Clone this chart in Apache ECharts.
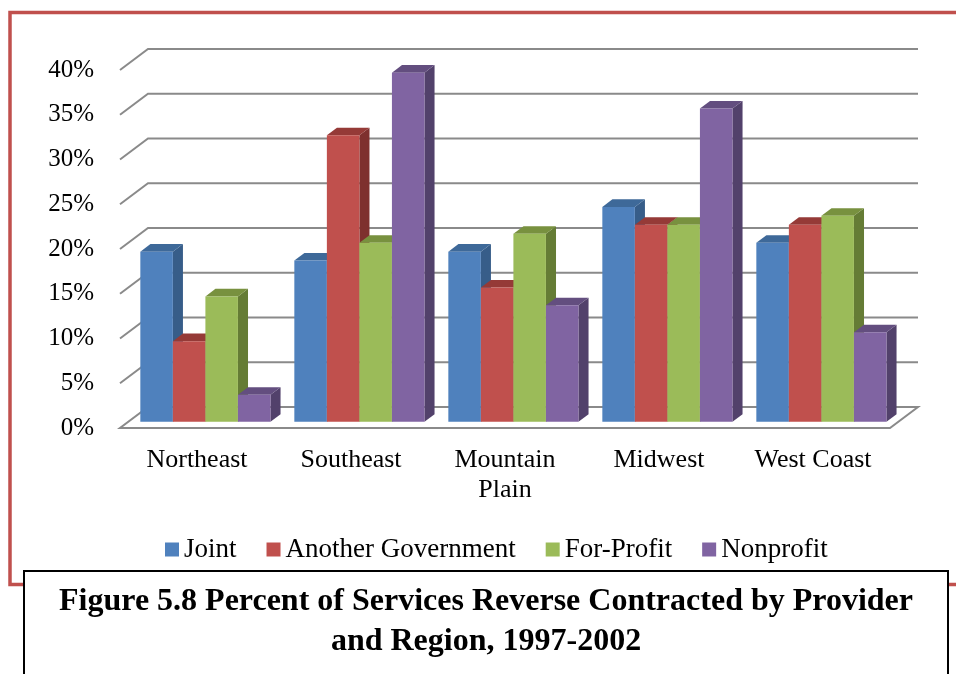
<!DOCTYPE html>
<html>
<head>
<meta charset="utf-8">
<script src="https://cdn.jsdelivr.net/npm/echarts@6/dist/echarts.min.js"></script>
<style>
  html, body { margin: 0; padding: 0; background: #ffffff; }
  #chart { width: 956px; height: 674px; }
</style>
</head>
<body>
<div id="chart"></div>
<script>
// Regions along the floor of the chart
const regions = ['Northeast', 'Southeast', 'Mountain\nPlain', 'Midwest', 'West Coast'];

// Percent of services reverse contracted, by provider (one value per region)
const joint      = [19, 18, 19, 24, 20];
const anotherGov = [9, 32, 15, 22, 22];
const forProfit  = [14, 20, 21, 22, 23];
const nonprofit  = [3, 39, 13, 35, 10];

const providers = ['Joint', 'Another Government', 'For-Profit', 'Nonprofit'];
const providerValues = [joint, anotherGov, forProfit, nonprofit];

// Value-axis ticks (percent)
const yTicks = [0, 5, 10, 15, 20, 25, 30, 35, 40];

// Face colours per provider: front, top, right side
const faceColors = [
  { front: '#4F81BD', top: '#3E6999', side: '#375D89' },
  { front: '#C0504D', top: '#953A37', side: '#7E302E' },
  { front: '#9BBB59', top: '#78913F', side: '#657C35' },
  { front: '#8064A2', top: '#634E7F', side: '#52416B' }
];

// Oblique projection of the depth axis
const DEPTH_DX = 28;
const DEPTH_DY = 21;
const BAR_Z0 = 0.30;   // bar front face, fraction of the floor depth
const BAR_Z1 = 0.66;   // bar back face
const GROUP_FILL = 0.845;

const FONT = '"Liberation Serif", "Times New Roman", serif';

function wallRenderer(params, api) {
  const cs = params.coordSys;
  const v = api.value(1);
  const y = api.coord([0, v])[1];
  const L = cs.x, R = cs.x + cs.width;
  if (v === 0) {
    return {
      type: 'polygon',
      shape: { points: [[L, y], [R, y], [R + DEPTH_DX, y - DEPTH_DY], [L + DEPTH_DX, y - DEPTH_DY]] },
      style: { stroke: '#8a8a8a', lineWidth: 2, fill: '#ffffff' }
    };
  }
  return {
    type: 'polyline',
    shape: { points: [[L, y], [L + DEPTH_DX, y - DEPTH_DY], [R + DEPTH_DX, y - DEPTH_DY]] },
    style: { stroke: '#8a8a8a', lineWidth: 2, fill: null }
  };
}

function barRenderer(idx) {
  const c = faceColors[idx];
  return function (params, api) {
    const cat = api.value(0);
    const v = api.value(1);
    const base = api.coord([cat, 0]);
    const top = api.coord([cat, v]);
    const band = api.size([1, 0])[0];
    const bw = band * GROUP_FILL / providers.length;
    const x0 = base[0] - bw * providers.length / 2 + idx * bw + DEPTH_DX * BAR_Z0;
    const x1 = x0 + bw;
    const yb = base[1] - DEPTH_DY * BAR_Z0;
    const yt = top[1] - DEPTH_DY * BAR_Z0;
    const dx = DEPTH_DX * (BAR_Z1 - BAR_Z0);
    const dy = DEPTH_DY * (BAR_Z1 - BAR_Z0);
    return {
      type: 'group',
      children: [
        { type: 'polygon', shape: { points: [[x1, yb], [x1 + dx, yb - dy], [x1 + dx, yt - dy], [x1, yt]] }, style: { fill: c.side } },
        { type: 'polygon', shape: { points: [[x0, yt], [x0 + dx, yt - dy], [x1 + dx, yt - dy], [x1, yt]] }, style: { fill: c.top } },
        { type: 'rect', shape: { x: x0, y: yt, width: bw, height: yb - yt }, style: { fill: c.front } }
      ]
    };
  };
}

const series = [{
  name: 'walls',
  type: 'custom',
  renderItem: wallRenderer,
  data: yTicks.map(v => [0, v]),
  silent: true,
  z: 1
}];

providers.forEach((name, i) => {
  series.push({
    name: name,
    type: 'custom',
    renderItem: barRenderer(i),
    itemStyle: { color: faceColors[i].front },
    data: providerValues[i].map((v, k) => [k, v]),
    z: 2 + i
  });
});

const chart = echarts.init(document.getElementById('chart'), null, { renderer: 'canvas' });
chart.setOption({
  animation: false,
  backgroundColor: '#ffffff',
  grid: { left: 120, right: 66, top: 70, bottom: 246 },
  xAxis: {
    type: 'category',
    data: regions,
    axisLine: { show: false },
    axisTick: { show: false },
    axisLabel: { interval: 0, margin: 17, color: '#000', fontSize: 26, lineHeight: 30, fontFamily: FONT }
  },
  yAxis: {
    type: 'value',
    min: 0,
    max: 40,
    interval: 5,
    axisLine: { show: false },
    axisTick: { show: false },
    splitLine: { show: false },
    axisLabel: { formatter: '{value}%', margin: 26, color: '#000', fontSize: 25, fontFamily: FONT }
  },
  legend: {
    data: providers,
    left: 160,
    top: 531,
    icon: 'rect',
    itemWidth: 14,
    itemHeight: 14,
    itemGap: 30,
    textStyle: { color: '#000', fontSize: 27, fontFamily: FONT }
  },
  graphic: [
    {
      type: 'polyline',
      z: -10,
      shape: { points: [[1000, 12.5], [10, 12.5], [10, 584.5], [1000, 584.5]] },
      style: { fill: null, stroke: '#C0504D', lineWidth: 3.5 }
    },
    {
      type: 'group',
      z: 100,
      children: [
        {
          type: 'rect',
          shape: { x: 24, y: 571, width: 924, height: 200 },
          style: { fill: '#ffffff', stroke: '#000000', lineWidth: 2 }
        },
        {
          type: 'text',
          x: 486, y: 602,
          style: {
            text: 'Figure 5.8 Percent of Services Reverse Contracted by Provider',
            fontSize: 32, fontWeight: 'bold', fontFamily: FONT,
            fill: '#000', align: 'center', verticalAlign: 'middle'
          }
        },
        {
          type: 'text',
          x: 486, y: 642,
          style: {
            text: 'and Region, 1997-2002',
            fontSize: 32, fontWeight: 'bold', fontFamily: FONT,
            fill: '#000', align: 'center', verticalAlign: 'middle'
          }
        }
      ]
    }
  ],
  series: series
});
</script>
</body>
</html>
